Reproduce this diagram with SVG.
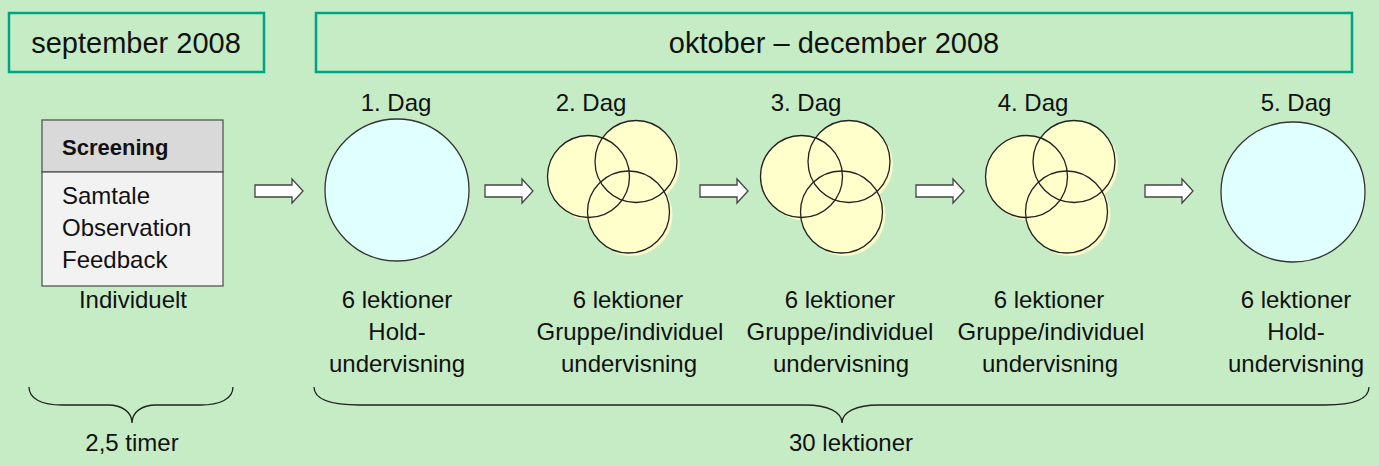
<svg xmlns="http://www.w3.org/2000/svg" width="1379" height="466" viewBox="0 0 1379 466">
<style>
text{font-family:"Liberation Sans",Arial,sans-serif;fill:#111;font-size:24px}
.h{font-size:29px}
.c{text-anchor:middle}
.frame{fill:none;stroke:#00A382;stroke-width:2.5}
.big{fill:#E0FFFF;stroke:#333;stroke-width:1.3}
.vf{fill:#FFFFCC}
.vs{fill:#FAFAC6}
.vo{fill:none;stroke:#222;stroke-width:1.3}
.arr{fill:#fff;stroke:#444;stroke-width:1.3}
.brace{fill:none;stroke:#222;stroke-width:1.3}
</style>
<defs>
<path id="arrow" d="M0 6 H37 V0 L48 12 L37 24 V18 H0 Z"/>
<g id="venn">
<circle class="vs" cx="3" cy="3" r="41"/>
<circle class="vs" cx="50.5" cy="-12" r="41"/>
<circle class="vs" cx="43" cy="38.5" r="41"/>
<circle class="vf" cx="0" cy="0" r="41"/>
<circle class="vf" cx="47.5" cy="-15" r="41"/>
<circle class="vf" cx="40" cy="35.5" r="41"/>
<circle class="vo" cx="0" cy="0" r="41"/>
<circle class="vo" cx="47.5" cy="-15" r="41"/>
<circle class="vo" cx="40" cy="35.5" r="41"/>
</g>
</defs>
<rect width="1379" height="466" fill="#C6ECC6"/>

<g id="header-sep">
<rect class="frame" x="9" y="13" width="255" height="59"/>
<text class="h c" x="136" y="53">september 2008</text>
</g>
<g id="header-okt">
<rect class="frame" x="316" y="13" width="1036" height="59"/>
<text class="h c" x="834" y="53">oktober – december 2008</text>
</g>

<g id="screening">
<rect x="42" y="120" width="181" height="52" fill="#D9D9D9" stroke="#555" stroke-width="1.3"/>
<rect x="42" y="172" width="181" height="114" fill="#F2F2F2" stroke="#555" stroke-width="1.3"/>
<text x="62" y="155" font-weight="bold" style="font-size:22px">Screening</text>
<text x="62" y="204">Samtale</text>
<text x="62" y="236">Observation</text>
<text x="62" y="268">Feedback</text>
<text class="c" x="133" y="308">Individuelt</text>
</g>

<g id="dag1">
<text class="c" x="396" y="111">1. Dag</text>
<ellipse class="big" cx="397" cy="190" rx="72" ry="71"/>
<text class="c" x="397" y="308">6 lektioner</text>
<text class="c" x="397" y="340">Hold-</text>
<text class="c" x="397" y="372">undervisning</text>
</g>
<g id="dag2">
<text class="c" x="591" y="111">2. Dag</text>
<use href="#venn" x="588.5" y="176.5"/>
<text class="c" x="628" y="308">6 lektioner</text>
<text class="c" x="630" y="340">Gruppe/individuel</text>
<text class="c" x="629" y="372">undervisning</text>
</g>
<g id="dag3">
<text class="c" x="806" y="111">3. Dag</text>
<use href="#venn" x="801.5" y="176.5"/>
<text class="c" x="840" y="308">6 lektioner</text>
<text class="c" x="840" y="340">Gruppe/individuel</text>
<text class="c" x="841" y="372">undervisning</text>
</g>
<g id="dag4">
<text class="c" x="1033" y="111">4. Dag</text>
<use href="#venn" x="1026.5" y="176.5"/>
<text class="c" x="1049" y="308">6 lektioner</text>
<text class="c" x="1051" y="340">Gruppe/individuel</text>
<text class="c" x="1050" y="372">undervisning</text>
</g>
<g id="dag5">
<text class="c" x="1296" y="111">5. Dag</text>
<ellipse class="big" cx="1293" cy="192" rx="72" ry="70"/>
<text class="c" x="1296" y="308">6 lektioner</text>
<text class="c" x="1296" y="340">Hold-</text>
<text class="c" x="1296" y="372">undervisning</text>
</g>

<g id="connectors">
<use href="#arrow" class="arr" x="255" y="179"/>
<use href="#arrow" class="arr" x="485" y="179"/>
<use href="#arrow" class="arr" x="700" y="179"/>
<use href="#arrow" class="arr" x="916" y="179"/>
<use href="#arrow" class="arr" x="1145" y="179"/>
</g>

<g id="brace-left">
<path class="brace" d="M29 387 C29 399 42 405 62 405 L108 405 C122 405 132 412 132 423 C132 412 142 405 156 405 L200 405 C220 405 233 399 233 387"/>
<text class="c" x="132" y="451">2,5 timer</text>
</g>
<g id="brace-right">
<path class="brace" d="M314 387 C314 399 330 405 360 405 L805 405 C828 405 842 412 842 423 C842 412 856 405 879 405 L1325 405 C1355 405 1369 399 1369 387"/>
<text class="c" x="851" y="451">30 lektioner</text>
</g>
</svg>
